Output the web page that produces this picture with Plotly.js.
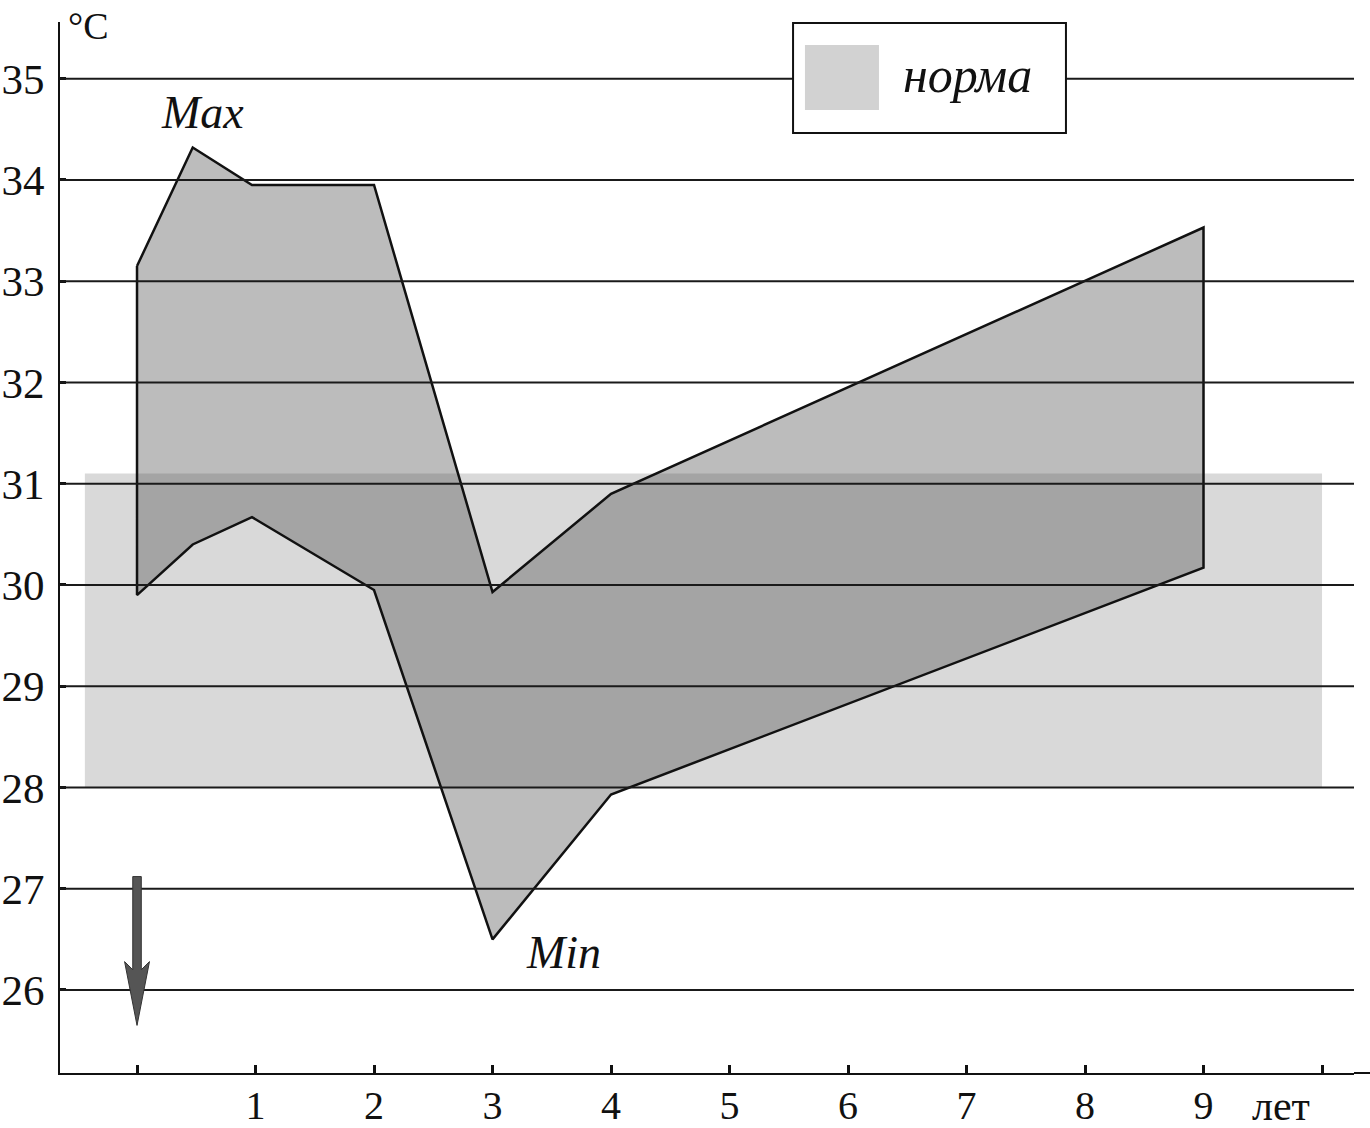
<!DOCTYPE html>
<html>
<head>
<meta charset="utf-8">
<script src="https://cdn.plot.ly/plotly-3.0.1.min.js"></script>
<style>html,body{margin:0;padding:0;background:#fff;}#chart{width:1370px;height:1128px;}</style>
</head>
<body>
<div id="chart"></div>
<script>
// ---- data ----
const maxX = [0, 0.47, 0.97, 2, 3, 4, 9];
const maxY = [33.15, 34.32, 33.95, 33.95, 29.93, 30.9, 33.53];
const minX = [0, 0.47, 0.97, 2, 3, 4, 9];
const minY = [29.9, 30.4, 30.67, 29.95, 26.5, 27.93, 30.17];
const normLow = 28.0;
const normHigh = 31.1;
const normXStart = -0.44;
const normXEnd = 10;
const xTickVals = [0, 1, 2, 3, 4, 5, 6, 7, 8, 9, 10];
const xTickText = ['', '1', '2', '3', '4', '5', '6', '7', '8', '9', ''];
const yTickVals = [26, 27, 28, 29, 30, 31, 32, 33, 34, 35];
const yTickText = ['26', '27', '28', '29', '30', '31', '32', '33', '34', '35'];
const labels = {max: 'Max', min: 'Min', norm: 'норма', unitY: '°C', unitX: 'лет'};
// arrow (decorative) in data units
const arrowX = 0, arrowTop = 27.12, arrowTip = 25.65, arrowHeadStart = 26.2;

const serif = '"Liberation Serif", "DejaVu Serif", serif';

// polygon between max and min
const polyX = maxX.concat(minX.slice().reverse()).concat([maxX[0]]);
const polyY = maxY.concat(minY.slice().reverse()).concat([maxY[0]]);

const traces = [
  {
    x: [normXStart, normXEnd, normXEnd, normXStart, normXStart],
    y: [normLow, normLow, normHigh, normHigh, normLow],
    type: 'scatter', mode: 'lines', fill: 'toself',
    fillcolor: 'rgba(150,150,150,0.36)', line: {width: 0}, hoverinfo: 'skip', showlegend: false
  },
  {
    x: polyX, y: polyY,
    type: 'scatter', mode: 'lines', fill: 'toself',
    fillcolor: 'rgba(80,80,80,0.38)', line: {color: '#111', width: 2.5}, hoverinfo: 'skip', showlegend: false
  }
];

const shapes = yTickVals.map(v => ({
  type: 'line', xref: 'paper', x0: 0, x1: 1, yref: 'y', y0: v, y1: v,
  layer: 'above', line: {color: '#1a1a1a', width: 2}
}));
// x axis extension to the right edge
shapes.push({type: 'line', xref: 'paper', yref: 'paper', x0: 1, x1: 1.013, y0: 0, y1: 0,
  layer: 'above', line: {color: '#111', width: 2}});
// legend box
shapes.push({type: 'rect', xref: 'paper', yref: 'paper', x0: 0.5665, x1: 0.7774, y0: 0.8944, y1: 0.999,
  layer: 'above', fillcolor: '#fff', line: {color: '#111', width: 2}});
shapes.push({type: 'rect', xref: 'paper', yref: 'paper', x0: 0.5757, x1: 0.6329, y0: 0.9163, y1: 0.9781,
  layer: 'above', fillcolor: '#d2d2d2', line: {width: 0}});
// arrow
const sw = 0.036, hw = 0.105;
shapes.push({type: 'path', xref: 'x', yref: 'y', layer: 'above',
  path: `M${arrowX - sw},${arrowTop} L${arrowX + sw},${arrowTop} L${arrowX + sw},${arrowHeadStart} L${arrowX + hw},${arrowHeadStart + 0.08} L${arrowX},${arrowTip} L${arrowX - hw},${arrowHeadStart + 0.08} L${arrowX - sw},${arrowHeadStart} Z`,
  fillcolor: '#555', line: {color: '#333', width: 1}});

const annotations = [
  {text: labels.max, x: 0.55, y: 34.67, xref: 'x', yref: 'y', showarrow: false,
   xanchor: 'center', yanchor: 'middle',
   font: {family: serif, size: 46, color: '#111', style: 'italic'}},
  {text: labels.min, x: 3.6, y: 26.37, xref: 'x', yref: 'y', showarrow: false,
   xanchor: 'center', yanchor: 'middle',
   font: {family: serif, size: 46, color: '#111', style: 'italic'}},
  {text: labels.norm, x: 0.7017, y: 0.950, xref: 'paper', yref: 'paper', showarrow: false,
   xanchor: 'center', yanchor: 'middle',
   font: {family: serif, size: 50, color: '#111', style: 'italic'}},
  {text: labels.unitY, x: 0.0224, y: 0.996, xref: 'paper', yref: 'paper', showarrow: false,
   xanchor: 'center', yanchor: 'middle', font: {family: serif, size: 38, color: '#111'}},
  {text: labels.unitX, x: 0.9436, y: -0.031, xref: 'paper', yref: 'paper', showarrow: false,
   xanchor: 'center', yanchor: 'middle', font: {family: serif, size: 42, color: '#111'}}
];

const layout = {
  width: 1370, height: 1128,
  margin: {l: 60, r: 16, t: 22, b: 55},
  paper_bgcolor: '#fff', plot_bgcolor: '#fff',
  showlegend: false,
  xaxis: {
    range: [-0.65, 10.27], tickvals: xTickVals, ticktext: xTickText,
    showgrid: false, zeroline: false, showline: true, linecolor: '#111', linewidth: 2,
    ticks: 'inside', ticklen: 8, tickwidth: 3, tickcolor: '#111',
    ticklabelstandoff: -4,
    tickfont: {family: serif, size: 40, color: '#111'}, fixedrange: true
  },
  yaxis: {
    range: [25.18, 35.56], tickvals: yTickVals, ticktext: yTickText,
    showgrid: false, zeroline: false, showline: true, linecolor: '#111', linewidth: 2,
    ticks: 'inside', ticklen: 6, tickwidth: 3, tickcolor: '#111',
    ticklabelstandoff: 5,
    tickfont: {family: serif, size: 43, color: '#111'}, fixedrange: true
  },
  shapes: shapes,
  annotations: annotations
};

Plotly.newPlot('chart', traces, layout, {staticPlot: true, displayModeBar: false});
</script>
</body>
</html>
